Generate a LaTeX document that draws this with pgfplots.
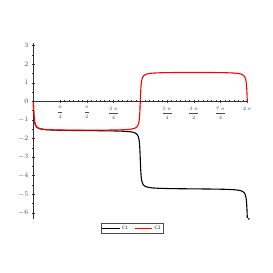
\documentclass[border=0pt]{standalone}
\usepackage{pgfplots}
\pgfplotsset{compat=1.18}
\usepackage{fontspec}
\setmainfont{Liberation Serif}
\begin{document}
\begin{tikzpicture}
\useasboundingbox (-33.3bp,-171.7bp) rectangle (239.7bp,101.3bp);
\begin{axis}[
  anchor=origin, at={(0,0)},
  x=34.06bp, y=18.6bp,
  axis lines=middle,
  axis line style={-, line width=0.4pt, black!80},
  xmin=0, xmax=6.2832, ymin=-6.35, ymax=3.15,
  xtick={0.7854,1.5708,2.3562,3.1416,3.9270,4.7124,5.4978,6.2832},
  xticklabels={$\displaystyle\frac{\pi}{4}$,$\displaystyle\frac{\pi}{2}$,$\displaystyle\frac{3\,\pi}{4}$,$\pi$,$\displaystyle\frac{5\,\pi}{4}$,$\displaystyle\frac{3\,\pi}{2}$,$\displaystyle\frac{7\,\pi}{4}$,$2\,\pi$},
  ytick={-6,-5,-4,-3,-2,-1,0,1,2,3},
  yticklabels={$-6$,$-5$,$-4$,$-3$,$-2$,$-1$,$0$,$1$,$2$,$3$},
  minor x tick num=5, minor y tick num=1,
  tick align=center,
  major tick length=3bp, minor tick length=2bp,
  tick style={black!80, line width=0.4pt},
  hide obscured x ticks=false, hide obscured y ticks=false,
  tick label style={font=\scriptsize, black!70},
  xticklabel style={font=\tiny, yshift=-0.5bp, anchor=north},
  clip=false,
  legend columns=2,
  legend style={at={(axis cs:2.9,-6.55)}, anchor=north, font=\tiny, draw=black!70, line width=0.3pt,
    inner sep=0.6pt, row sep=-1pt, /tikz/every even column/.append style={column sep=4bp}},
  legend image code/.code={\draw[#1] (0cm,0cm) -- (0.62cm,0cm);},
]
\addplot[black, line width=1.1pt] coordinates {
(0,0) (0.005,-0.2546) (0.01,-0.4732) (0.02,-0.7949) (0.03,-0.9923) (0.04,-1.1166) (0.05,-1.1999) (0.075,-1.3198) (0.1,-1.3831) (0.15,-1.4482) (0.2,-1.4812) (0.3,-1.5146) (0.4,-1.5315) (0.6,-1.5489) (0.8,-1.558) (1.0,-1.5639) (1.2,-1.5683) (1.5708,-1.5751) (2.0,-1.583) (2.4,-1.5947) (2.6,-1.6055) (2.8,-1.6279) (2.9,-1.6525) (3.0,-1.7106) (3.05,-1.7856) (3.08,-1.8848) (3.1,-2.019) (3.11,-2.1351) (3.12,-2.318) (3.13,-2.6161) (3.1366,-2.8967) (3.1416,-3.1416) (3.1466,-3.3865) (3.1532,-3.6671) (3.1632,-3.9652) (3.1732,-4.1481) (3.1832,-4.2642) (3.2032,-4.3984) (3.2332,-4.4976) (3.2832,-4.5726) (3.3832,-4.6307) (3.4832,-4.6553) (3.6832,-4.6777) (3.8832,-4.6885) (4.2832,-4.7002) (4.7124,-4.7081) (5.0832,-4.7149) (5.2832,-4.7193) (5.4832,-4.7252) (5.6832,-4.7343) (5.8832,-4.7517) (5.9832,-4.7686) (6.0832,-4.802) (6.1332,-4.835) (6.1832,-4.9001) (6.2082,-4.9634) (6.2332,-5.0833) (6.2432,-5.1666) (6.2532,-5.2909) (6.2632,-5.4883) (6.2732,-5.81) (6.2782,-6.0286) (6.2832,-6.2832)
};
\addlegendentry{C1}
\addplot[red, line width=1.1pt] coordinates {
(0,0) (0.005,-0.2450) (0.01,-0.4636) (0.02,-0.7853) (0.03,-0.9827) (0.04,-1.1070) (0.05,-1.1901) (0.075,-1.3097) (0.1,-1.3731) (0.15,-1.4378) (0.2,-1.4705) (0.3,-1.5032) (0.4,-1.5195) (0.6,-1.5354) (0.8,-1.5429) (1.0,-1.5470) (1.2,-1.5493) (1.5708,-1.5508) (1.9416,-1.5493) (2.1416,-1.5470) (2.3416,-1.5429) (2.5416,-1.5354) (2.7416,-1.5195) (2.8416,-1.5032) (2.9416,-1.4705) (2.9916,-1.4378) (3.0416,-1.3731) (3.0666,-1.3097) (3.0916,-1.1901) (3.1016,-1.1070) (3.1116,-0.9827) (3.1216,-0.7853) (3.1316,-0.4636) (3.1366,-0.2450) (3.1416,0) (3.1466,0.2450) (3.1516,0.4636) (3.1616,0.7853) (3.1716,0.9827) (3.1816,1.1070) (3.1916,1.1901) (3.2166,1.3097) (3.2416,1.3731) (3.2916,1.4378) (3.3416,1.4705) (3.4416,1.5032) (3.5416,1.5195) (3.7416,1.5354) (3.9416,1.5429) (4.1416,1.5470) (4.3416,1.5493) (4.7124,1.5508) (5.0832,1.5493) (5.2832,1.5470) (5.4832,1.5429) (5.6832,1.5354) (5.8832,1.5195) (5.9832,1.5032) (6.0832,1.4705) (6.1332,1.4378) (6.1832,1.3731) (6.2082,1.3097) (6.2332,1.1901) (6.2432,1.1070) (6.2532,0.9827) (6.2632,0.7853) (6.2732,0.4636) (6.2782,0.2450) (6.2832,0)
};
\addlegendentry{C2}
\addplot[only marks, mark=*, mark size=0.6pt, black, forget plot] coordinates {(6.33,-6.32)};
\end{axis}
\end{tikzpicture}
\end{document}
